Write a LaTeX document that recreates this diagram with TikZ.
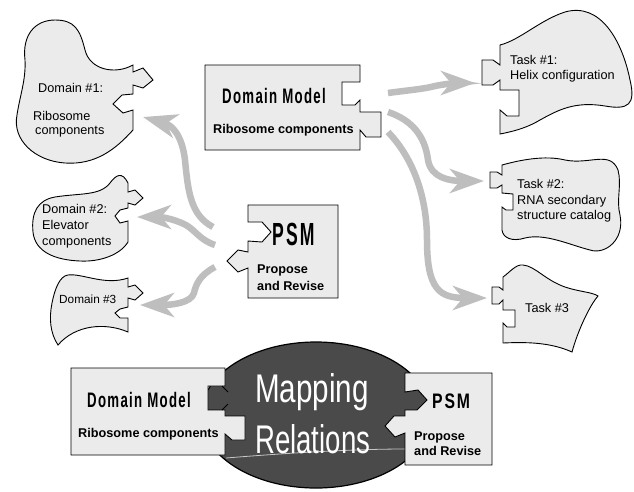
\documentclass[tikz,border=0pt]{standalone}
\usepackage{fontspec}
\usepackage{graphicx}
\setmainfont{Liberation Sans}
\usetikzlibrary{arrows.meta}
\definecolor{lightfill}{HTML}{EBEBEB}
\definecolor{darkfill}{HTML}{4A4A4A}
\definecolor{arrowgray}{HTML}{BEBEBE}
\newcommand{\narrowtxt}[3]{\scalebox{#1}[1]{\fontsize{#2}{#2}\selectfont #3}}
\newcommand{\spacedtxt}[4]{\scalebox{#1}[1]{\fontsize{#2}{#2}\selectfont\addfontfeature{LetterSpace=#3}#4}}
\begin{document}
\begin{tikzpicture}[x=1pt,y=-1pt,
  shapeline/.style={draw=black, fill=lightfill, line width=0.9pt, line join=miter},
  bigarrow/.style={draw=arrowgray, line width=6.5pt, -{Stealth[length=34pt,width=24pt,inset=10pt]}},
  txt/.style={inner sep=0pt, anchor=base west, font=\fontsize{12.7}{14}\selectfont},
  btxt/.style={inner sep=0pt, anchor=base west, font=\fontsize{12.7}{14}\selectfont\bfseries},
  headtxt/.style={inner sep=0pt, anchor=base west, font=\bfseries},
]
\useasboundingbox (0,0) rectangle (634,491);
\fill[white] (0,0) rectangle (634,491);

% ---------- arrows ----------
\coordinate (a1s) at (213,227); \coordinate (a1e) at (143,117);
\coordinate (a2s) at (215,245); \coordinate (a2e) at (137,217);
\coordinate (a3s) at (215,267); \coordinate (a3e) at (140,305);
\coordinate (a4s) at (388,93);  \coordinate (a4e) at (475,83);
\coordinate (a5s) at (388,112); \coordinate (a5e) at (484,181);
\coordinate (a6s) at (388,132); \coordinate (a6e) at (487,298);
\draw[bigarrow] (a1s) .. controls (190,215) and (188,190) .. (185,160) .. controls (182,135) and (172,125) .. (a1e);
\draw[bigarrow] (a2s) .. controls (200,240) and (196,231) .. (186,225) .. controls (172,218) and (160,217) .. (a2e);
\draw[bigarrow] (a3s) .. controls (200,275) and (196,284) .. (194,293) .. controls (191,303) and (172,305) .. (a3e);
\draw[bigarrow] (a4s) .. controls (410,90) and (424,89) .. (435,86) .. controls (450,83) and (460,83) .. (a4e);
\draw[bigarrow] (a5s) .. controls (412,120) and (425,136) .. (428,160) .. controls (431,178) and (450,181) .. (a5e);
\draw[bigarrow] (a6s) .. controls (415,160) and (427,200) .. (427,240) .. controls (427,290) and (440,298) .. (a6e);

% ---------- Domain #1 ----------
\draw[shapeline] (133,65) -- (133,72) -- (143,68) -- (153,80) -- (143,88) -- (133,85) -- (133,94) -- (122,95) -- (113,104) -- (123,113) -- (133,110) -- (133,130)
 .. controls (115,150) and (95,165) .. (65,163)
 .. controls (35,161) and (12,140) .. (17,115)
 .. controls (20,95) and (26,80) .. (25,60)
 .. controls (22,35) and (35,20) .. (55,20)
 .. controls (75,20) and (80,30) .. (85,50)
 .. controls (90,70) and (115,75) .. (133,65) -- cycle;
\node[txt] (d1a) at (38,92) {Domain \#1:};
\node[txt] (d1b) at (33,120) {Ribosome};
\node[txt] (d1c) at (35,134) {components};

% ---------- Domain #2 ----------
\draw[shapeline] (128,183) -- (128,192) -- (135,190) -- (143,198) -- (135,205) -- (128,203) -- (128,208) -- (120,210) -- (115,216) -- (120,223) -- (128,221) -- (128,242)
 .. controls (120,255) and (100,262) .. (80,261)
 .. controls (55,260) and (35,252) .. (33,232)
 .. controls (31,212) and (38,200) .. (55,197)
 .. controls (80,193) and (100,196) .. (110,183)
 .. controls (116,175) and (122,171) .. (128,183) -- cycle;
\node[txt] (d2a) at (42,213) {Domain \#2:};
\node[txt] (d2b) at (42,229) {Elevator};
\node[txt] (d2c) at (42,245) {components};

% ---------- Domain #3 ----------
\draw[shapeline] (128,278) -- (128,287) -- (135,285) -- (143,293) -- (135,300) -- (128,298) -- (128,307) -- (120,309) -- (115,313) -- (120,318) -- (128,318) -- (128,332)
 .. controls (105,322) and (75,325) .. (58,345)
 .. controls (50,333) and (49,318) .. (52,303)
 .. controls (55,288) and (60,276) .. (68,275)
 .. controls (82,273) and (105,286) .. (128,278) -- cycle;
\node[txt, font=\fontsize{11.8}{14}\selectfont] (d3a) at (59,303) {Domain \#3};

% ---------- Task #1 ----------
\draw[shapeline] (500,45) .. controls (520,40) and (540,20) .. (565,12) .. controls (600,2) and (622,40) .. (630,80) .. controls (636,105) and (628,110) .. (605,106) .. controls (575,101) and (558,110) .. (540,120) .. controls (525,129) and (510,132) .. (500,134) -- (500,110) -- (507,116) -- (519,116) -- (519,90) -- (500,90) -- (500,80) -- (493,85) -- (482,85) -- (482,60) -- (493,60) -- (500,65) -- cycle;
\node[txt] (t1a) at (510,64) {Task \#1:};
\node[txt] (t1b) at (510,79) {Helix configuration};

% ---------- Task #2 ----------
\draw[shapeline] (502,165) .. controls (520,160) and (545,155) .. (565,160) .. controls (590,165) and (610,150) .. (618,170) .. controls (622,185) and (616,200) .. (620,215) .. controls (625,240) and (605,255) .. (590,250) .. controls (570,245) and (545,233) .. (525,238) .. controls (512,242) and (503,238) .. (502,230) -- (502,207) -- (506,210) -- (513,210) -- (513,194) -- (502,193) -- (502,185) -- (497,188) -- (490,188) -- (490,172) -- (497,172) -- (502,175) -- cycle;
\node[txt] (t2a) at (517,188) {Task \#2:};
\node[txt] (t2b) at (517,204) {RNA secondary};
\node[txt] (t2c) at (517,219) {structure catalog};

% ---------- Task #3 ----------
\draw[shapeline] (503,343) -- (503,323) -- (507,327) -- (515,327) -- (515,310) -- (503,310) -- (503,300) -- (499,304) -- (492,304) -- (492,287) -- (499,287) -- (503,290) -- (503,277)
 .. controls (510,272) and (516,264) .. (523,265)
 .. controls (535,266) and (545,280) .. (565,287)
 .. controls (580,292) and (592,292) .. (598,296)
 .. controls (590,305) and (578,330) .. (572,352)
 .. controls (550,342) and (525,342) .. (503,343) -- cycle;
\node[txt] (t3a) at (525,312) {Task \#3};

% ---------- top Domain Model box ----------
\draw[shapeline] (205,65) -- (360,65) -- (360,82) -- (342,82) -- (342,105) -- (355,105) -- (360,100) -- (360,112) -- (381,112) -- (381,137) -- (366,137) -- (360,130) -- (360,150) -- (205,150) -- cycle;
\node[headtxt] (dm1) at (222,103) {\spacedtxt{0.63}{21}{10}{Domain Model}};
\node[btxt] (dm1b) at (213,133) {Ribosome components};

% ---------- top PSM box ----------
\draw[shapeline] (248,205) -- (338,205) -- (338,298) -- (248,298) -- (248,268) -- (238,272) -- (227,261) -- (238,250) -- (248,252) -- (248,241) -- (262,242) -- (271,232) -- (262,222) -- (248,222) -- cycle;
\node[headtxt] (psm1) at (272,245) {\spacedtxt{0.55}{32}{12}{PSM}};
\node[btxt] (psm1a) at (257,273) {Propose};
\node[btxt] (psm1b) at (257,290) {and Revise};

% ---------- bottom: mapping relations ----------
\draw[fill=darkfill, line width=1.2pt] (316,415) ellipse [x radius=115pt, y radius=73pt];
\draw[draw=gray!45, line width=0.8pt] (226,458) .. controls (300,452) and (360,449) .. (405,449);
\node[inner sep=0pt, anchor=base west, text=white] (map) at (255,402) {\narrowtxt{0.74}{40}{Mapping}};
\node[inner sep=0pt, anchor=base west, text=white] (rel) at (255,453) {\narrowtxt{0.69}{40}{Relations}};

\draw[shapeline] (71,368) -- (225,368) -- (225,386) -- (208,386) -- (208,410) -- (225,410) -- (225,416) -- (245,416) -- (245,440) -- (232,440) -- (225,434) -- (225,455) -- (71,455) -- cycle;
\draw[line width=0.9pt] (222,386) -- (228,392);
\draw[line width=0.9pt] (222,410) -- (228,404);
\node[headtxt] (dm2) at (87,407) {\spacedtxt{0.63}{21}{10}{Domain Model}};
\node[btxt] (dm2b) at (78,437) {Ribosome components};

\draw[shapeline] (405,373) -- (492,373) -- (492,465) -- (405,465) -- (405,433) -- (395,437) -- (385,426) -- (394,416) -- (405,416) -- (405,410) -- (417,410) -- (427,400) -- (418,390) -- (405,392) -- cycle;
\node[headtxt] (psm2) at (432,408) {\spacedtxt{0.75}{21}{12}{PSM}};
\node[btxt] (psm2a) at (414,440) {Propose};
\node[btxt] (psm2b) at (414,455) {and Revise};
\end{tikzpicture}
\end{document}
